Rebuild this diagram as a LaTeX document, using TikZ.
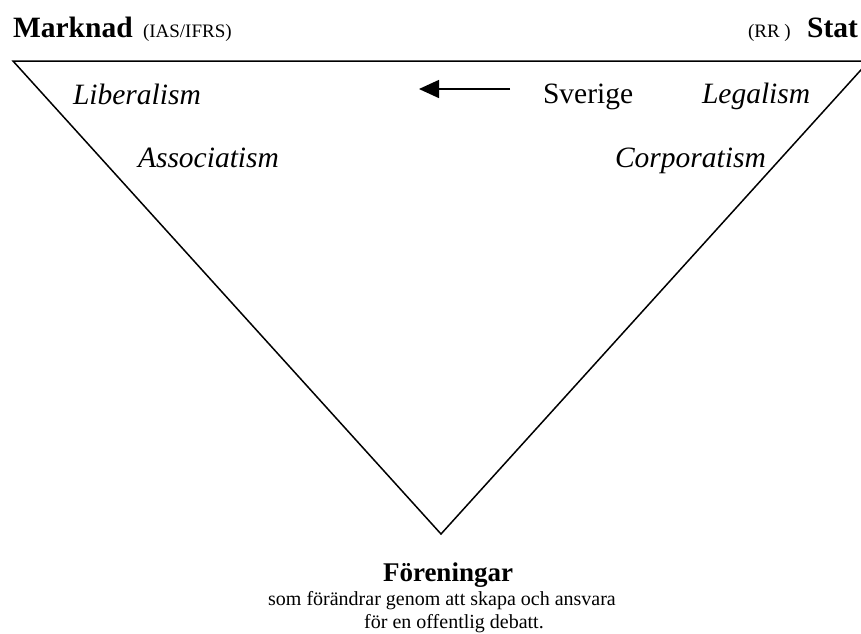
\documentclass[tikz,border=0pt]{standalone}
\usepackage{fontspec}
\setmainfont{Liberation Serif}
\usetikzlibrary{arrows.meta}
\begin{document}
\begin{tikzpicture}[x=1pt,y=-1pt,
  lbl/.style={inner sep=0pt,outer sep=0pt},
  big/.style={lbl,font=\fontsize{29.5}{33}\selectfont},
  bigb/.style={lbl,font=\fontsize{29.5}{33}\selectfont\bfseries},
  bigi/.style={lbl,font=\fontsize{29.5}{33}\selectfont\itshape},
  small/.style={lbl,font=\fontsize{19}{22}\selectfont},
  note/.style={lbl,font=\fontsize{20}{23}\selectfont},
  edge/.style={line width=1.5pt,line join=miter}]
\useasboundingbox (0,0) rectangle (861,633);
\clip (0,0) rectangle (861,633);
\coordinate (tl) at (13,61);
\coordinate (tr) at (869,61);
\coordinate (bt) at (441,534);
\draw[edge] (tl) -- (tr) -- (bt) -- cycle;
\node[bigb,anchor=base west] (marknad) at (13,37) {Marknad};
\node[small,anchor=base west] (ias) at (143,37) {(IAS/IFRS)};
\node[small,anchor=base west] (rr) at (748,37) {(RR )};
\node[bigb,anchor=base east] (stat) at (858,37) {Stat};
\node[bigi,anchor=base west] (lib) at (73,104) {Liberalism};
\node[bigi,anchor=base west] (ass) at (138,167) {Associatism};
\node[big,anchor=base west] (sve) at (543,103) {Sverige};
\node[bigi,anchor=base west] (leg) at (702,103) {Legalism};
\node[bigi,anchor=base west] (cor) at (615,167) {Corporatism};
\node[lbl,font=\fontsize{27}{31}\selectfont\bfseries,anchor=base west] (for) at (383,581) {Föreningar};
\node[note,anchor=base] (l2) at (442,605) {som förändrar genom att skapa och ansvara};
\node[note,anchor=base] (l3) at (454,628) {för en offentlig debatt.};
\coordinate (as) at (510,89);
\coordinate (ae) at (419,89);
\draw[line width=1.5pt,-{Triangle[length=20pt,width=18pt]}] (as) -- (ae);
\end{tikzpicture}
\end{document}
